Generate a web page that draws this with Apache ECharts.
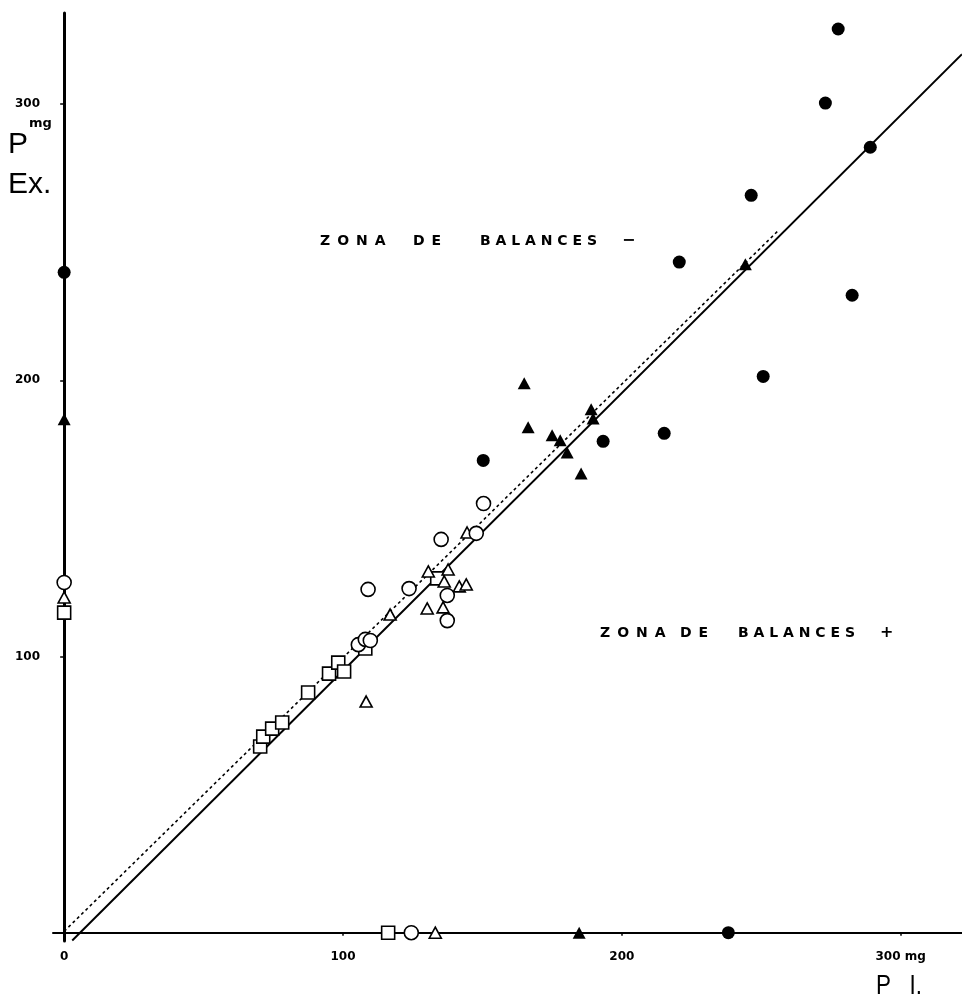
<!DOCTYPE html>
<html><head><meta charset="utf-8">
<script src="https://cdn.jsdelivr.net/npm/echarts@6/dist/echarts.min.js"></script>
<style>html,body{margin:0;padding:0;background:#fff}#c{width:962px;height:1007px}</style>
</head><body><div id="c"></div>
<script>
// Tick values
const xTicks = [0, 100, 200, 300];
const yTicks = [100, 200, 300];

// Data: [P I. (mg), P Ex. (mg)]
const filledCircles = [[277.6,327.2],[273.0,300.4],[289.1,284.4],[246.4,267.0],[220.6,242.8],[282.6,230.8],[250.7,201.4],[150.3,171.0],[193.3,177.9],[215.2,180.8],[0,239.1],[238.2,0]];
const filledTriangles = [[244.3,242.0],[165.0,198.9],[166.4,183.0],[175.0,180.1],[177.9,178.3],[180.4,173.9],[189.0,189.5],[189.7,186.2],[185.4,166.3],[0,185.9],[184.7,0]];
const openCircles = [[150.4,155.4],[135.2,142.4],[147.8,144.6],[109.0,124.3],[123.7,124.6],[137.4,122.1],[137.4,113.0],[105.5,104.3],[108.0,106.2],[109.8,105.8],[0,126.8],[124.5,0]];
const openTriangles = [[144.5,144.9],[130.6,130.8],[137.7,131.5],[136.3,127.2],[141.7,125.4],[144.2,126.1],[116.9,115.2],[130.2,117.4],[135.9,117.8],[108.3,83.7],[0,121.4],[133.1,0]];
const openSquares = [[70.3,67.4],[71.4,71.0],[74.6,73.9],[78.2,76.1],[87.5,87.0],[95.0,93.8],[98.3,97.8],[100.4,94.6],[108.0,102.9],[133.8,128.3],[0,115.9],[116.2,0]];
const solidLine = [[2.9,-2.8],[322,318.1]];
const dashedLine = [[0,0.5],[256.5,254.6]];

const chart = echarts.init(document.getElementById('c'), null, {renderer:'canvas'});
const tickFont = {fontFamily:'DejaVu Sans', fontWeight:'bold', fontSize:12, color:'#000'};
const openStyle = {color:'#fff', borderColor:'#000', borderWidth:1.6, opacity:1};
const solidStyle = {color:'#000', opacity:1};
const zf = 'bold 14px "DejaVu Sans"';
const EN = '\u2002';
function word(t, x, y, sep){ return {type:'text', x:x, y:y, style:{text:t.split('').join(sep), font:zf, fill:'#000', verticalAlign:'middle'}}; }
chart.setOption({
  animation:false,
  backgroundColor:'#fff',
  grid:{left:53, right:0, top:13, bottom:66},
  xAxis:{type:'value', min:-4, max:322,
    axisLine:{onZero:true, lineStyle:{color:'#000', width:2}},
    splitLine:{show:false},
    axisTick:{customValues:xTicks, length:3, lineStyle:{color:'#000', width:1.5}},
    axisLabel:Object.assign({customValues:xTicks, margin:10, formatter:v=> v===300 ? '300 mg' : String(v)}, tickFont)
  },
  yAxis:{type:'value', min:-3, max:333,
    axisLine:{onZero:true, lineStyle:{color:'#000', width:3}},
    splitLine:{show:false},
    axisTick:{customValues:yTicks, length:4, lineStyle:{color:'#000', width:1.5}},
    axisLabel:Object.assign({customValues:yTicks, margin:13}, tickFont)
  },
  series:[
    {type:'line', data:solidLine, symbol:'none', silent:true, z:1, lineStyle:{color:'#000', width:2}},
    {type:'line', data:dashedLine, symbol:'none', silent:true, z:1, lineStyle:{color:'#000', width:1.6, type:[3,3]}},
    {type:'scatter', data:openSquares, symbol:'rect', symbolSize:13, z:3, itemStyle:openStyle},
    {type:'scatter', data:openTriangles, symbol:'triangle', symbolSize:[12,11], z:3, itemStyle:openStyle},
    {type:'scatter', data:openCircles, symbol:'circle', symbolSize:14, z:3, itemStyle:openStyle},
    {type:'scatter', data:filledTriangles, symbol:'triangle', symbolSize:[13,12], z:4, itemStyle:solidStyle},
    {type:'scatter', data:filledCircles, symbol:'circle', symbolSize:13, z:4, itemStyle:solidStyle}
  ],
  graphic:[
    {type:'text', x:8, y:145, style:{text:'P', font:'30px "Liberation Sans"', fill:'#000', verticalAlign:'middle'}},
    {type:'text', x:29, y:124, style:{text:'mg', font:'bold 13px "DejaVu Sans"', fill:'#000', verticalAlign:'middle'}},
    {type:'text', x:8, y:185, style:{text:'Ex.', font:'30px "Liberation Sans"', fill:'#000', verticalAlign:'middle'}},
    word('ZONA', 320, 241, EN), word('DE', 413, 241, EN), word('BALANCES', 480, 241, ' '),
    {type:'text', x:622, y:241, style:{text:'\u2212', font:'bold 16px "DejaVu Sans"', fill:'#000', verticalAlign:'middle'}},
    word('ZONA', 600, 633, EN), word('DE', 680, 633, EN), word('BALANCES', 738, 633, ' '),
    {type:'text', x:880, y:633, style:{text:'+', font:'bold 16px "DejaVu Sans"', fill:'#000', verticalAlign:'middle'}},
    {type:'text', x:876, y:986, scaleX:0.8, style:{text:'P   I.', font:'28px "Liberation Sans"', fill:'#000', verticalAlign:'middle'}}
  ]
});
</script></body></html>
